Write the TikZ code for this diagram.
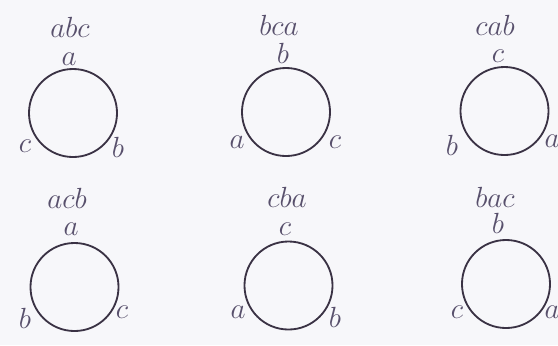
\documentclass[tikz,border=0pt]{standalone}
\usepackage{tikz}
\usepackage{xcolor}
\definecolor{PaperWhite}{RGB}{247,247,250}
\definecolor{RingInk}{RGB}{58,50,68}
\definecolor{LetterInk}{RGB}{88,80,108}
\tikzset{
  ring/.style={draw=RingInk, circle, line width=1.3pt, minimum size=2.2cm,
    inner sep=0pt},
  letter/.style={text=LetterInk, inner sep=0pt, anchor=base,
    font=\fontsize{20}{24}\selectfont},
  perm/.style={letter}
}
\begin{document}
\begin{tikzpicture}[x=0.025cm, y=-0.025cm]
  \fill[PaperWhite] (0,0) rectangle (558,345);
  \useasboundingbox (0,0) rectangle (558,345);
  \node[ring] (r1) at (73,113) {};
  \node[perm] (r1t) at (70,37) {$abc$};
  \node[letter] (r1a) at (69,65) {$a$};
  \node[letter] (r1c) at (25,152) {$c$};
  \node[letter] (r1b) at (118,157) {$b$};
  \node[ring] (r2) at (286,112) {};
  \node[perm] (r2t) at (279,35) {$bca$};
  \node[letter] (r2b) at (283,63) {$b$};
  \node[letter] (r2a) at (237,148) {$a$};
  \node[letter] (r2c) at (335,148) {$c$};
  \node[ring] (r3) at (504.5,111) {};
  \node[perm] (r3t) at (495,35) {$cab$};
  \node[letter] (r3c) at (498,62) {$c$};
  \node[letter] (r3b) at (452,155) {$b$};
  \node[letter] (r3a) at (552,147) {$a$};
  \node[ring] (r4) at (74.5,287) {};
  \node[perm] (r4t) at (67,208) {$acb$};
  \node[letter] (r4a) at (71,235) {$a$};
  \node[letter] (r4b) at (25,328) {$b$};
  \node[letter] (r4c) at (122,318) {$c$};
  \node[ring] (r5) at (288.5,285.5) {};
  \node[perm] (r5t) at (287,207) {$cba$};
  \node[letter] (r5c) at (285,235) {$c$};
  \node[letter] (r5a) at (238,318) {$a$};
  \node[letter] (r5b) at (335,327) {$b$};
  \node[ring] (r6) at (506,284) {};
  \node[perm] (r6t) at (495,207) {$bac$};
  \node[letter] (r6b) at (498,233) {$b$};
  \node[letter] (r6c) at (457,318) {$c$};
  \node[letter] (r6a) at (552,318) {$a$};
\end{tikzpicture}
\end{document}
